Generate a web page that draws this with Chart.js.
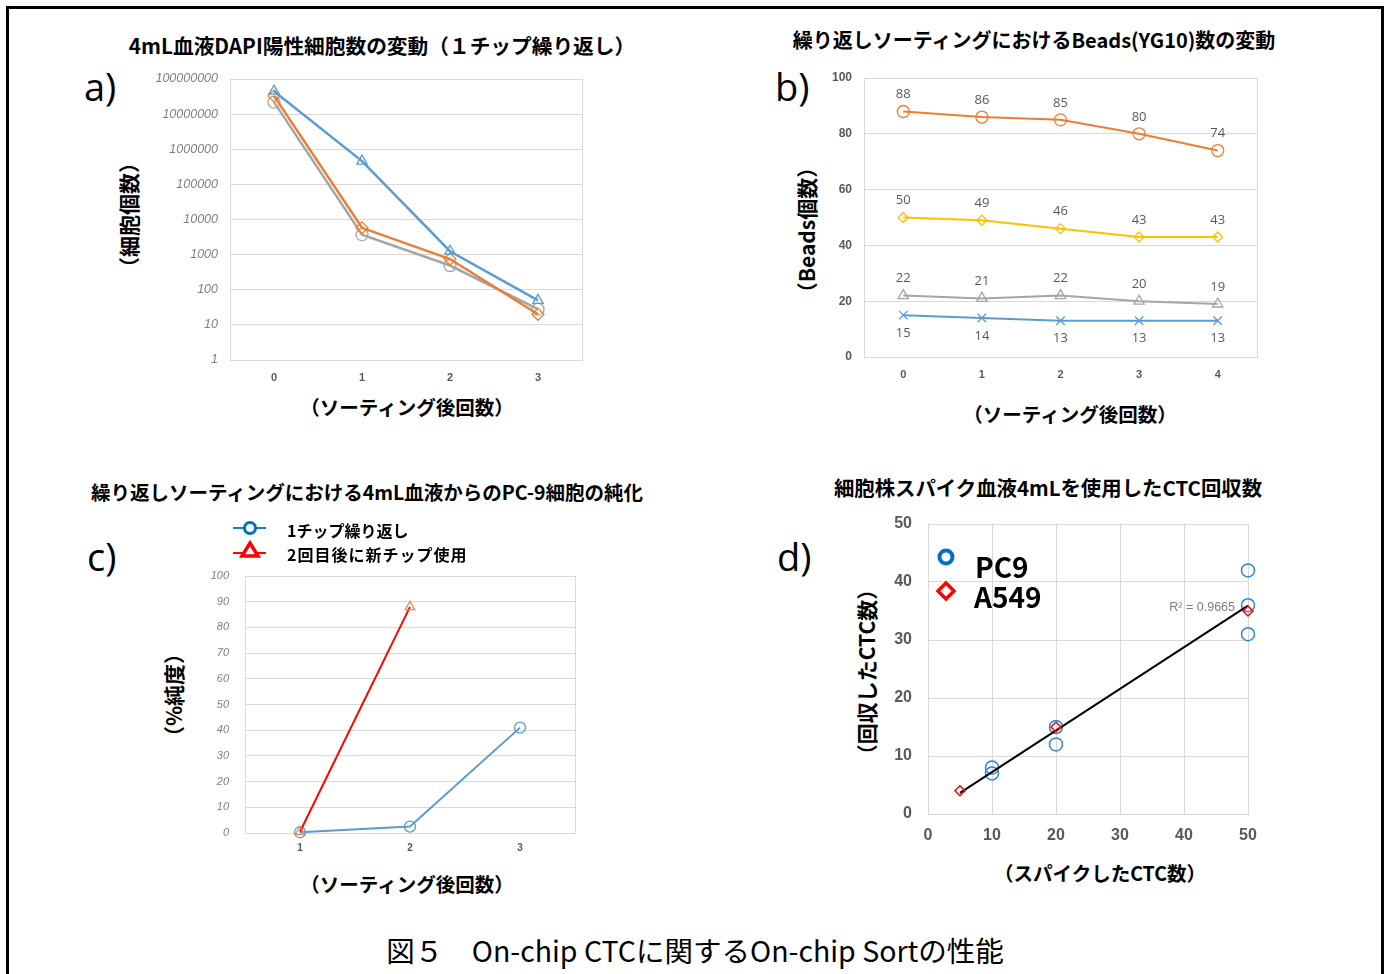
<!DOCTYPE html>
<html lang="ja">
<head>
<meta charset="utf-8">
<script src="https://cdn.jsdelivr.net/npm/chart.js@4.4.1/dist/chart.umd.min.js"></script>
<style>
  html,body{margin:0;padding:0;background:#fff;overflow:hidden}
  body{width:1387px;height:974px;position:relative;font-family:"Noto Sans CJK JP",sans-serif;color:#000}
  .frame{position:absolute;left:6px;top:6px;width:1372px;height:1000px;border:3px solid #000;border-bottom:none}
  .t{position:absolute;white-space:nowrap;transform:translate(-50%,-50%);font-weight:700;font-size:19.5px;line-height:1}
  .rot{transform:translate(-50%,-50%) rotate(-90deg);font-size:21px}
  .lab{position:absolute;font-family:"Open Sans",sans-serif;font-size:38px;line-height:1;transform:translateY(-50%)}
  .leg{position:absolute;white-space:nowrap;font-weight:700;line-height:1;transform:translateY(-50%)}
  .cap{position:absolute;white-space:nowrap;transform:translate(-50%,-50%);font-size:28.5px;line-height:1}
  canvas{position:absolute}
  svg{position:absolute;overflow:visible}
</style>
</head>
<body>
<div class="frame"></div>

<div class="t" style="left:382px;top:45px;font-size:20.7px">4mL血液DAPI陽性細胞数の変動（１チップ繰り返し）</div>
<div class="t" style="left:1034px;top:40px;font-size:20px">繰り返しソーティングにおけるBeads(YG10)数の変動</div>
<div class="t" style="left:367px;top:492px;font-size:19.5px">繰り返しソーティングにおける4mL血液からのPC-9細胞の純化</div>
<div class="t" style="left:1048px;top:487px;font-size:20.4px">細胞株スパイク血液4mLを使用したCTC回収数</div>

<div class="lab" style="left:84px;top:86px">a)</div>
<div class="lab" style="left:775px;top:86px">b)</div>
<div class="lab" style="left:87px;top:556px">c)</div>
<div class="lab" style="left:777px;top:556px">d)</div>

<div class="t" style="left:407px;top:407px">（ソーティング後回数）</div>
<div class="t" style="left:1070px;top:414px">（ソーティング後回数）</div>
<div class="t" style="left:407px;top:884px">（ソーティング後回数）</div>
<div class="t" style="left:1100px;top:873px">（スパイクしたCTC数）</div>

<div class="t rot" style="left:128px;top:215px">（細胞個数）</div>
<div class="t rot" style="left:806px;top:230px">（Beads個数）</div>
<div class="t rot" style="left:173px;top:695px">（%純度）</div>
<div class="t rot" style="left:866px;top:672px">（回収したCTC数）</div>

<canvas id="ca"></canvas>
<canvas id="cb"></canvas>
<canvas id="cc"></canvas>
<canvas id="cd"></canvas>

<svg style="left:0;top:0" width="1" height="1">
  <line x1="233" y1="528" x2="266" y2="528" stroke="#2E75B6" stroke-width="2"/>
  <circle cx="250" cy="528" r="5.5" fill="#fff" stroke="#0070C0" stroke-width="3"/>
  <line x1="233" y1="553" x2="266" y2="553" stroke="#FF0000" stroke-width="2"/>
  <polygon points="250,543 258,556 242,556" fill="#fff" stroke="#FF0000" stroke-width="3.5" stroke-linejoin="miter"/>
  <circle cx="946" cy="557" r="6.5" fill="#fff" stroke="#0070C0" stroke-width="4"/>
  <polygon points="946,583 954,591 946,599 938,591" fill="#fff" stroke="#FF0000" stroke-width="3.5"/>
</svg>
<div class="leg" id="legc1" style="left:287px;top:530px;font-size:16px"></div>
<div class="leg" id="legc2" style="left:287px;top:554px;font-size:16px;letter-spacing:1px"></div>
<div class="leg" id="legd1" style="left:975px;top:566px;font-size:28px"></div>
<div class="leg" id="legd2" style="left:974px;top:596px;font-size:28px"></div>
<div id="r2" style="position:absolute;right:152px;top:607px;transform:translateY(-50%);font-family:'Liberation Sans',sans-serif;font-size:12.5px;color:#7f7f7f;white-space:nowrap"></div>

<div class="cap" style="left:695px;top:950px">図５　On-chip CTCに関するOn-chip Sortの性能</div>

<script>
// a) 細胞個数 (log)
const aLabels = ['0','1','2','3'];
const aTriangle = [4.5e7, 4.6e5, 1250, 50];
const aDiamond = [3.3e7, 5800, 750, 20];
const aCircle = [2.2e7, 3700, 490, 28];
const aTicks = [1,10,100,1000,10000,100000,1000000,10000000,100000000];

// b) Beads個数
const bLabels = ['0','1','2','3','4'];
const bOrange = [88,86,85,80,74];
const bYellow = [50,49,46,43,43];
const bGray = [22,21,22,20,19];
const bBlue = [15,14,13,13,13];

// c) %純度
const cLabels = ['1','2','3'];
const cOneChip = [0.3, 2.5, 41];
const cNewChip = [0.5, 88, null];
const cLegend = ['1チップ繰り返し','2回目後に新チップ使用'];

// d) CTC回収数
const dPC9x = [10,10,20,20,50,50,50];
const dPC9y = [8,7,15,12,42,36,31];
const dA549x = [5,20,50];
const dA549y = [4,15,35];
const dLegend = ['PC9','A549'];
const dR2 = 'R² = 0.9665';

const GRID = '#d9d9d9', TXT = '#595959';

document.getElementById('legc1').textContent = cLegend[0];
document.getElementById('legc2').textContent = cLegend[1];
document.getElementById('legd1').textContent = dLegend[0];
document.getElementById('legd2').textContent = dLegend[1];
document.getElementById('r2').textContent = dR2;

// canvas rect + plot rect -> padding and axis sizes
function place(id, cv, plot){
  const el = document.getElementById(id);
  el.style.left = cv[0]+'px'; el.style.top = cv[1]+'px';
  el.width = cv[2]-cv[0]; el.height = cv[3]-cv[1];
  return {cv, plot, pad:{top:plot[1]-cv[1], right:cv[2]-plot[2], left:0, bottom:0}, yw:plot[0]-cv[0], xh:cv[3]-plot[3]};
}

// nudge padding / axis sizes until chartArea sits on the wanted plot rect
function snap(ch, f){
  const L = f.plot[0]-f.cv[0], T = f.plot[1]-f.cv[1], R = f.plot[2]-f.cv[0], B = f.plot[3]-f.cv[1];
  for (let i = 0; i < 5; i++){
    const a = ch.chartArea;
    const dT = T-a.top, dB = a.bottom-B, dL = L-a.left, dR = a.right-R;
    if (Math.abs(dT)+Math.abs(dB)+Math.abs(dL)+Math.abs(dR) < 0.5) break;
    f.pad = {top:f.pad.top+dT, right:f.pad.right+dR, left:0, bottom:0};
    f.xh += dB; f.yw += dL;
    ch.options.layout.padding = f.pad;
    ch.update('none');
  }
}

const boxPlugin = {id:'box', beforeDatasetsDraw(c){
  const a = c.chartArea, x = c.ctx;
  x.save(); x.strokeStyle = GRID; x.lineWidth = 1;
  x.strokeRect(Math.round(a.left)+0.5, Math.round(a.top)+0.5, Math.round(a.right-a.left), Math.round(a.bottom-a.top));
  x.restore();
}};

const valPlugin = {id:'vals', afterDatasetsDraw(c){
  const x = c.ctx;
  x.save(); x.font = '13px "Open Sans"'; x.fillStyle = TXT; x.textAlign = 'center'; x.textBaseline = 'middle';
  c.data.datasets.forEach((ds,i)=>{
    c.getDatasetMeta(i).data.forEach((p,j)=>{
      x.fillText(ds.data[j], p.x, p.y + (ds.below ? 18 : -17));
    });
  });
  x.restore();
}};

function ser(data, color, style, r, extra){
  return Object.assign({data, borderColor:color, pointBorderColor:color, pointBackgroundColor:'rgba(0,0,0,0)',
    pointStyle:style, pointRadius:r, pointBorderWidth:1.3, borderWidth:2.5, tension:0, fill:false, clip:false}, extra||{});
}

function baseOpts(f){
  return {responsive:false, animation:false, layout:{padding:f.pad, autoPadding:false},
    plugins:{legend:{display:false}, tooltip:{enabled:false}}};
}

function catX(f, pad, font){
  return {offset:true, afterFit(s){s.height=f.xh; s.paddingLeft=0; s.paddingRight=0}, grid:{display:false, drawTicks:false}, border:{display:false},
    ticks:{padding:pad, color:TXT, font}};
}
function yFit(f){ return function(s){ s.width=f.yw; s.paddingTop=0; s.paddingBottom=0; }; }

// a
const fa = place('ca', [140,68,600,395], [230,79,582,360]);
const chA = new Chart('ca', {type:'line', plugins:[boxPlugin],
  data:{labels:aLabels, datasets:[
    ser(aTriangle, '#5B9BD5', 'triangle', 6),
    ser(aDiamond, '#ED7D31', 'rectRot', 6),
    ser(aCircle, '#A5A5A5', 'circle', 6)
  ]},
  options:Object.assign(baseOpts(fa), {scales:{
    x:catX(fa, 11, {family:'Liberation Sans', size:11, weight:'bold'}),
    y:{type:'logarithmic', min:1, max:1e8, afterFit:yFit(fa),
      afterBuildTicks(s){s.ticks = aTicks.map(v=>({value:v}))},
      grid:{color:GRID, drawTicks:false}, border:{display:false},
      ticks:{autoSkip:false, padding:12, color:'#7f7f7f', font:{family:'Liberation Sans', size:12.5, style:'italic'}, callback:v=>String(v)}}
  }})
});
snap(chA, fa);

// b
const fb = place('cb', [820,66,1275,395], [864,78,1257,357]);
const chB = new Chart('cb', {type:'line', plugins:[boxPlugin, valPlugin],
  data:{labels:bLabels, datasets:[
    ser(bOrange, '#ED7D31', 'circle', 6, {borderWidth:2}),
    ser(bYellow, '#FFC000', 'rectRot', 5, {borderWidth:2}),
    ser(bGray, '#A5A5A5', 'triangle', 6, {borderWidth:2}),
    ser(bBlue, '#5B9BD5', 'crossRot', 6, {borderWidth:2, below:true})
  ]},
  options:Object.assign(baseOpts(fb), {scales:{
    x:catX(fb, 11, {family:'Liberation Sans', size:11, weight:'bold'}),
    y:{min:0, max:100, afterFit:yFit(fb), grid:{color:GRID, drawTicks:false}, border:{display:false},
      ticks:{stepSize:20, padding:12, color:TXT, font:{family:'Liberation Sans', size:12, weight:'bold'}}}
  }})
});
snap(chB, fb);

// c
const fc = place('cc', [190,565,590,860], [245,576,575,833]);
const chC = new Chart('cc', {type:'line', plugins:[boxPlugin],
  data:{labels:cLabels, datasets:[
    ser(cNewChip, '#FF0000', 'triangle', 5.5, {pointBorderColor:'#F08A4B', borderWidth:2}),
    ser(cOneChip, '#5B9BD5', 'circle', 5.5, {borderWidth:2})
  ]},
  options:Object.assign(baseOpts(fc), {scales:{
    x:catX(fc, 9, {family:'Liberation Sans', size:10, weight:'bold'}),
    y:{min:0, max:100, afterFit:yFit(fc), grid:{color:GRID, drawTicks:false}, border:{display:false},
      ticks:{stepSize:10, padding:16, color:'#7f7f7f', font:{family:'Liberation Sans', size:11, style:'italic'}}}
  }})
});
snap(chC, fc);

// d
const allX = dPC9x.concat(dA549x), allY = dPC9y.concat(dA549y);
const n = allX.length;
const mx = allX.reduce((s,v)=>s+v,0)/n, my = allY.reduce((s,v)=>s+v,0)/n;
let sxy = 0, sxx = 0;
allX.forEach((v,i)=>{ sxy += (v-mx)*(allY[i]-my); sxx += (v-mx)*(v-mx); });
const slope = sxy/sxx, icpt = my - slope*mx;
const x0 = Math.min(...allX), x1 = Math.max(...allX);
const trend = [{x:x0, y:icpt+slope*x0}, {x:x1, y:icpt+slope*x1}];

const fd = place('cd', [880,510,1270,855], [928,524,1248,814]);
const dFont = {family:'Liberation Sans', size:16, weight:'bold'};
const chD = new Chart('cd', {type:'scatter', plugins:[boxPlugin],
  data:{datasets:[
    {data:dA549x.map((v,i)=>({x:v, y:dA549y[i]})), pointStyle:'rectRot', pointRadius:5, pointBorderWidth:1.5, clip:false,
      borderColor:'#FF0000', pointBorderColor:'#FF0000', pointBackgroundColor:'rgba(0,0,0,0)'},
    {type:'line', data:trend, borderColor:'#000', borderWidth:2, pointRadius:0, fill:false, clip:false},
    {data:dPC9x.map((v,i)=>({x:v, y:dPC9y[i]})), pointStyle:'circle', pointRadius:6.5, pointBorderWidth:1.5, clip:false,
      borderColor:'#2E86D6', pointBorderColor:'#2E86D6', pointBackgroundColor:'rgba(0,0,0,0)'}
  ]},
  options:Object.assign(baseOpts(fd), {scales:{
    x:{type:'linear', min:0, max:50, afterFit(s){s.height=fd.xh; s.paddingLeft=0; s.paddingRight=0}, grid:{color:GRID, drawTicks:false}, border:{display:false},
      ticks:{stepSize:10, padding:12, color:TXT, font:dFont}},
    y:{min:0, max:50, afterFit:yFit(fd), grid:{color:GRID, drawTicks:false}, border:{display:false},
      ticks:{stepSize:10, padding:16, color:TXT, font:dFont}}
  }})
});
snap(chD, fd);
</script>
</body>
</html>
